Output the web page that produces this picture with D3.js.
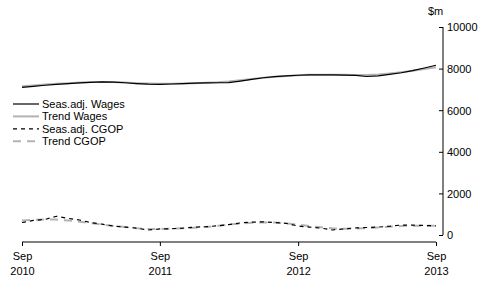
<!DOCTYPE html>
<html>
<head>
  <script src="https://d3js.org/d3.v7.min.js"></script>
  <style>
    body { margin: 0; background: white; font-family: "Liberation Sans", Arial, sans-serif; }
    text { font-size: 11px; fill: #000; }
  </style>
</head>
<body>
  <div id="chart"></div>
  <script>
    // monthly, Sep 2010 .. Sep 2013
    const startMonth = new Date(2010, 8, 1);
    const wagesSA = [7100, 7150, 7200, 7240, 7280, 7310, 7340, 7360, 7350, 7320, 7280, 7250,
      7240, 7260, 7280, 7300, 7310, 7320, 7330, 7400, 7480, 7560, 7610, 7650,
      7680, 7700, 7700, 7700, 7690, 7670, 7620, 7650, 7720, 7800, 7900, 8030, 8160];
    const wagesTrend = [7150, 7190, 7230, 7270, 7300, 7330, 7350, 7360, 7350, 7330, 7300, 7280,
      7270, 7270, 7280, 7300, 7320, 7340, 7380, 7440, 7500, 7560, 7610, 7650,
      7680, 7700, 7710, 7710, 7700, 7690, 7690, 7720, 7770, 7830, 7900, 7980, 8070];
    const cgopSA = [600, 700, 750, 900, 800, 720, 600, 520, 430, 380, 330, 240,
      290, 300, 330, 380, 400, 440, 500, 580, 620, 630, 600, 560,
      430, 380, 330, 240, 300, 340, 360, 380, 420, 480, 470, 460, 440];
    const cgopTrend = [700, 730, 750, 740, 700, 640, 570, 500, 430, 380, 330, 300,
      290, 300, 320, 350, 390, 440, 500, 550, 590, 610, 600, 560,
      500, 430, 370, 320, 300, 310, 330, 360, 400, 430, 450, 450, 440];
    const yTicks = [0, 2000, 4000, 6000, 8000, 10000];
    const xTickYears = [2010, 2011, 2012, 2013];

    const series = [
      { name: 'Seas.adj. Wages', values: wagesSA, color: '#000', width: 1.2, dash: null },
      { name: 'Trend Wages', values: wagesTrend, color: '#b3b3b3', width: 2, dash: null },
      { name: 'Seas.adj. CGOP', values: cgopSA, color: '#000', width: 1.2, dash: '4,4' },
      { name: 'Trend CGOP', values: cgopTrend, color: '#b3b3b3', width: 2, dash: '8,6' }
    ];
    // draw trend under seas.adj
    const drawOrder = [series[1], series[3], series[0], series[2]];

    const width = 496, height = 284;
    const svg = d3.select('#chart').append('svg')
      .attr('width', width).attr('height', height);

    const dates = wagesSA.map((_, i) => d3.timeMonth.offset(startMonth, i));
    const x = d3.scaleTime()
      .domain([startMonth, dates[dates.length - 1]])
      .range([22, 436]);
    const y = d3.scaleLinear().domain([0, 10000]).range([235, 27]);

    // y axis on the right
    const yAxis = svg.append('g')
      .attr('transform', 'translate(443,0)')
      .call(d3.axisLeft(y).tickValues(yTicks).tickSize(4).tickFormat(d3.format('d')));
    yAxis.select('.domain').attr('d', `M0,${y(10000)}V${y(0)}`);
    yAxis.selectAll('.tick text').attr('x', 4).attr('text-anchor', 'start').attr('dy', '0.35em');
    yAxis.selectAll('.tick line').attr('x2', -4);

    svg.append('text').attr('x', 428).attr('y', 15).text('$m');

    // x axis
    const xAxis = svg.append('g')
      .attr('transform', 'translate(0,242)')
      .call(d3.axisBottom(x)
        .tickValues(xTickYears.map(yr => new Date(yr, 8, 1)))
        .tickSize(4)
        .tickFormat(''));
    xAxis.select('.domain').attr('d', `M${x(startMonth)},0H${x(dates[dates.length - 1])}`);
    xAxis.selectAll('.tick').each(function (d) {
      const t = d3.select(this).append('text').attr('text-anchor', 'middle');
      t.append('tspan').attr('x', 0).attr('y', 18).text('Sep');
      t.append('tspan').attr('x', 0).attr('y', 33).text(d.getFullYear());
    });
    svg.selectAll('.domain, .tick line').attr('stroke', '#000');
    svg.selectAll('.tick text').attr('font-size', 11).attr('font-family', '"Liberation Sans", Arial, sans-serif');

    const line = d3.line()
      .x((d, i) => x(dates[i]))
      .y(d => y(d));

    svg.append('g').selectAll('path')
      .data(drawOrder)
      .join('path')
      .attr('d', d => line(d.values))
      .attr('fill', 'none')
      .attr('stroke', d => d.color)
      .attr('stroke-width', d => d.width)
      .attr('stroke-dasharray', d => d.dash);

    // legend
    const legend = svg.append('g').attr('transform', 'translate(13,104)');
    const row = legend.selectAll('g')
      .data(series)
      .join('g')
      .attr('transform', (d, i) => `translate(0,${i * 12.4})`);
    row.append('line')
      .attr('x1', 0).attr('x2', 26).attr('y1', 0).attr('y2', 0)
      .attr('stroke', d => d.color)
      .attr('stroke-width', d => d.width)
      .attr('stroke-dasharray', d => d.dash);
    row.append('text')
      .attr('x', 29).attr('y', 0).attr('dy', '0.35em')
      .text(d => d.name);
  </script>
</body>
</html>
